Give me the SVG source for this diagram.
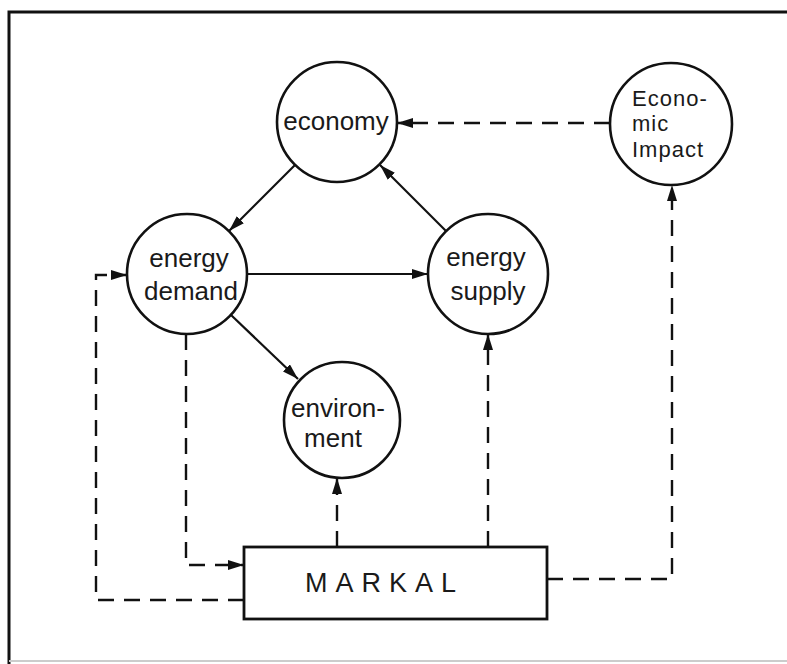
<svg xmlns="http://www.w3.org/2000/svg" width="787" height="664" viewBox="0 0 787 664">
<style>
.node circle{fill:#fff;stroke:#111;stroke-width:2.6}
.node rect{fill:#fff;stroke:#111;stroke-width:2.8}
.lbl{font-family:"Liberation Sans","DejaVu Sans",sans-serif;font-size:26px;fill:#1a1a1a}
.sm{font-family:"Liberation Sans","DejaVu Sans",sans-serif;font-size:22px;letter-spacing:1px;fill:#1a1a1a}
.mk{font-family:"Liberation Sans","DejaVu Sans",sans-serif;font-size:27px;fill:#1a1a1a;letter-spacing:8px}
.solid{fill:none;stroke:#111;stroke-width:2.2}
.dash{fill:none;stroke:#111;stroke-width:2.4;stroke-dasharray:16 10}
.frame{fill:none;stroke:#111;stroke-width:3}
</style>
<defs>
<marker id="ah" viewBox="0 0 16 10" refX="16" refY="5" markerWidth="16" markerHeight="10" markerUnits="userSpaceOnUse" orient="auto">
<path d="M0,0 L16,5 L0,10 Z" fill="#111"/>
</marker>
</defs>
<rect width="787" height="664" fill="#fff"/>
<g id="frame">
<path class="frame" d="M9,664 V12 H787"/>
<line x1="9" y1="661" x2="787" y2="661" stroke="#ccc" stroke-width="2"/>
</g>
<g id="connectors">
<line class="dash" x1="610" y1="123" x2="397" y2="123" marker-end="url(#ah)"/>
<line class="solid" x1="295" y1="165" x2="229" y2="231" marker-end="url(#ah)"/>
<line class="solid" x1="446" y1="231" x2="380" y2="165" marker-end="url(#ah)"/>
<line class="solid" x1="247" y1="274" x2="428" y2="274" marker-end="url(#ah)"/>
<line class="solid" x1="231" y1="315" x2="298" y2="379" marker-end="url(#ah)"/>
<polyline class="dash" points="186,334 186,565 244,565" marker-end="url(#ah)"/>
<polyline class="dash" points="244,600 96,600 96,275 127,275" marker-end="url(#ah)"/>
<line class="dash" x1="337" y1="547" x2="337" y2="478" marker-end="url(#ah)"/>
<line class="dash" x1="488" y1="547" x2="488" y2="334" marker-end="url(#ah)"/>
<polyline class="dash" points="547,579 672,579 672,185" marker-end="url(#ah)"/>
</g>
<g id="economy" class="node">
<circle cx="337" cy="122" r="60"/>
<text class="lbl" x="336" y="130" text-anchor="middle">economy</text>
</g>
<g id="economic-impact" class="node">
<circle cx="671" cy="124" r="61"/>
<text class="sm" x="632" y="106">Econo-</text>
<text class="sm" x="632" y="131">mic</text>
<text class="sm" x="632" y="157">Impact</text>
</g>
<g id="energy-demand" class="node">
<circle cx="187" cy="274" r="60"/>
<text class="lbl" x="189" y="267" text-anchor="middle">energy</text>
<text class="lbl" x="191" y="300" text-anchor="middle">demand</text>
</g>
<g id="energy-supply" class="node">
<circle cx="488" cy="274" r="60"/>
<text class="lbl" x="486" y="266" text-anchor="middle">energy</text>
<text class="lbl" x="488" y="300" text-anchor="middle">supply</text>
</g>
<g id="environment" class="node">
<circle cx="342" cy="420" r="58"/>
<text class="lbl" x="338" y="417" text-anchor="middle">environ-</text>
<text class="lbl" x="333" y="447" text-anchor="middle">ment</text>
</g>
<g id="markal" class="node">
<rect x="244" y="547" width="303" height="72"/>
<text class="mk" x="305" y="592">MARKAL</text>
</g>
</svg>
